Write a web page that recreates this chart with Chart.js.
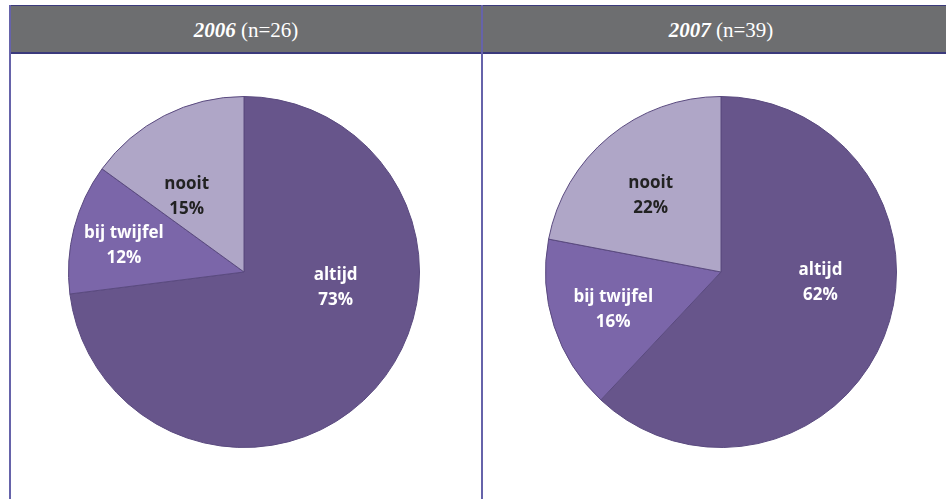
<!DOCTYPE html>
<html>
<head>
<meta charset="utf-8">
<script src="https://cdn.jsdelivr.net/npm/chart.js@4"></script>
<style>
  html, body { margin: 0; padding: 0; background: #fff; }
  body { width: 946px; height: 499px; position: relative; overflow: hidden; }
  .header {
    position: absolute; left: 9px; top: 5px; width: 960px; height: 46px;
    background: #6d6e70; border-top: 1px solid #3b3a7c; border-bottom: 2px solid #3b3a7c;
  }
  .vline { position: absolute; top: 5px; width: 2px; height: 494px; background: #6663aa; }
  .title {
    position: absolute; top: 5px; height: 48px; line-height: 50px; text-align: center;
    color: #fff; font-family: "Liberation Serif", "DejaVu Serif", serif; font-size: 21px;
  }
  .title b { font-style: italic; }
  .pie { position: absolute; top: 96px; width: 352px; height: 352px; }
</style>
</head>
<body>
<div class="header"></div>
<div class="vline" style="left:9px"></div>
<div class="vline" style="left:481px"></div>
<div class="title" style="left:10px;width:472px"><b>2006</b> (n=26)</div>
<div class="title" style="left:483px;width:476px"><b>2007</b> (n=39)</div>
<div class="pie" style="left:68px"><canvas id="pie2006"></canvas></div>
<div class="pie" style="left:545px"><canvas id="pie2007"></canvas></div>

<script>
const categories = ['altijd', 'bij twijfel', 'nooit'];
const values2006 = [73, 12, 15];
const values2007 = [62, 16, 22];

const sliceColors = ['#67558b', '#7b66a9', '#afa6c7'];
const labelColors = ['#ffffff', '#ffffff', '#222222'];
// where the label sits inside each slice: fraction along the slice angle, fraction of radius
const labelSpot2006 = [[0.38, 0.53], [0.45, 0.70], [0.31, 0.54]];
const labelSpot2007 = [[0.43, 0.57], [0.48, 0.65], [0.46, 0.59]];

// draws "name / xx%" inside each slice, like the Excel data labels
const sliceLabels = {
  id: 'sliceLabels',
  afterDatasetsDraw(chart, args, opts) {
    const ctx = chart.ctx;
    const meta = chart.getDatasetMeta(0);
    const vals = chart.data.datasets[0].data;
    ctx.save();
    ctx.font = 'bold 17px "Open Sans", Lato, sans-serif';
    ctx.textAlign = 'center';
    ctx.textBaseline = 'middle';
    meta.data.forEach((arc, i) => {
      const p = arc.getProps(['x', 'y', 'startAngle', 'endAngle', 'outerRadius'], true);
      const spot = opts.spots[i];
      const a = p.startAngle + (p.endAngle - p.startAngle) * spot[0];
      const r = p.outerRadius * spot[1];
      const x = p.x + Math.cos(a) * r;
      const y = p.y + Math.sin(a) * r;
      ctx.fillStyle = labelColors[i];
      ctx.fillText(chart.data.labels[i], x, y - 12.5);
      ctx.fillText(vals[i] + '%', x, y + 12.5);
    });
    ctx.restore();
  }
};

function makePie(id, values, spots) {
  return new Chart(document.getElementById(id), {
    type: 'pie',
    data: {
      labels: categories,
      datasets: [{
        data: values,
        backgroundColor: sliceColors,
        borderColor: '#5a4a7f',
        borderWidth: 1
      }]
    },
    options: {
      responsive: true,
      maintainAspectRatio: false,
      animation: false,
      layout: { padding: 0 },
      plugins: {
        legend: { display: false },
        tooltip: { enabled: false },
        sliceLabels: { spots }
      }
    },
    plugins: [sliceLabels]
  });
}

makePie('pie2006', values2006, labelSpot2006);
makePie('pie2007', values2007, labelSpot2007);
</script>
</body>
</html>
